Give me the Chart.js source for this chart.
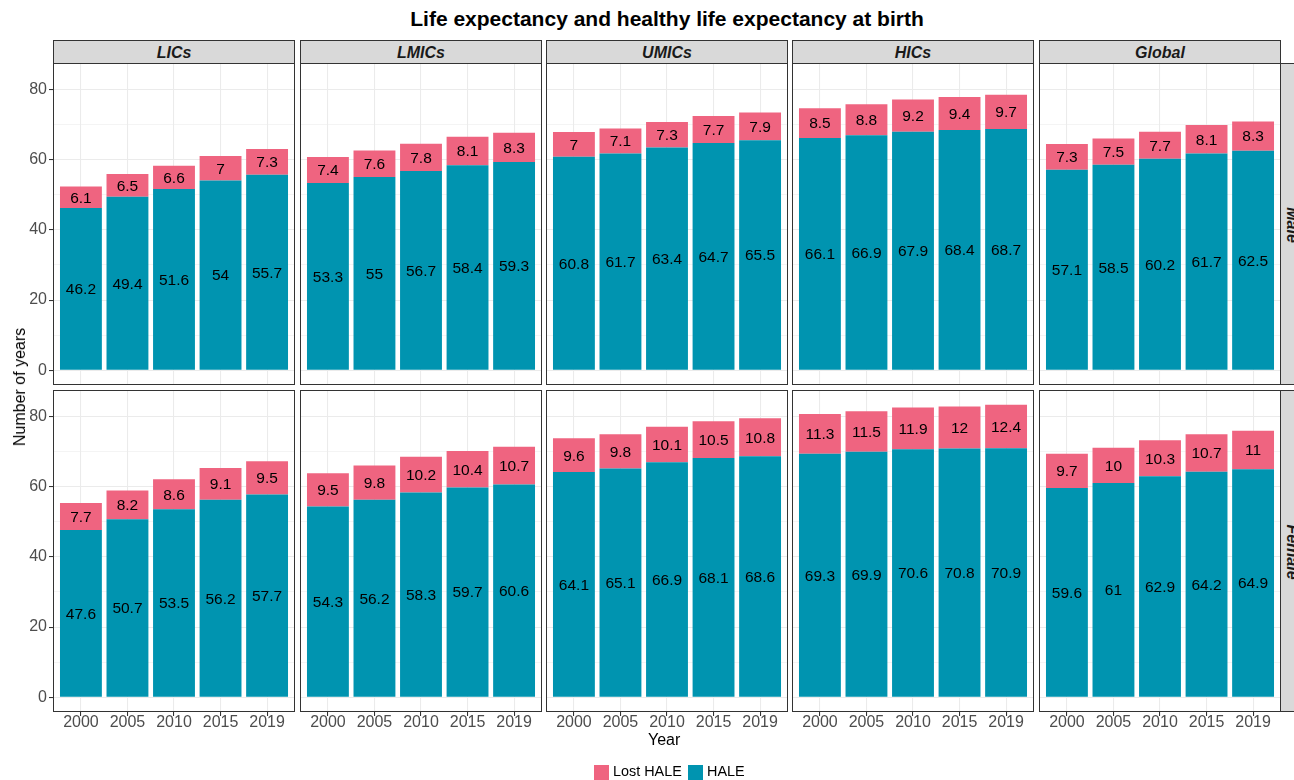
<!DOCTYPE html>
<html>
<head>
<meta charset="utf-8">
<script src="https://cdn.jsdelivr.net/npm/chart.js@4.4.0/dist/chart.umd.min.js"></script>
<style>
  body { margin:0; background:#fff; width:1294px; height:780px; overflow:hidden; position:relative;
         font-family:"Liberation Sans", Arial, Helvetica, sans-serif; }
  .abs { position:absolute; }
  #title { left:367px; width:600px; top:7px; text-align:center; font-weight:bold; font-size:21px; color:#000; white-space:nowrap; }
  .strip { position:absolute; background:#D9D9D9; border:1px solid #333; box-sizing:border-box;
           font-weight:bold; font-style:italic; font-size:16px; color:#1A1A1A; padding-top:1px;
           display:flex; align-items:center; justify-content:center; white-space:nowrap; }
  .rtext { transform:rotate(90deg); }
  .axt { position:absolute; font-size:16px; color:#000; white-space:nowrap; }
  .leg { position:absolute; font-size:14.4px; color:#000; white-space:nowrap; }
  .box { position:absolute; width:15px; height:15px; }
  canvas { position:absolute; }
</style>
</head>
<body>
<div id="title" class="abs">Life expectancy and healthy life expectancy at birth</div>
<div id="wrap"></div>
<div class="axt" style="left:648px; top:731px;">Year</div>
<div class="axt" style="left:20px; top:387px; transform:translate(-50%,-50%) rotate(-90deg);">Number of years</div>
<div class="box" style="left:594px; top:765px; background:#EF6480;"></div>
<div class="leg" style="left:613px; top:763px;">Lost HALE</div>
<div class="box" style="left:688px; top:765px; background:#0094B0;"></div>
<div class="leg" style="left:707px; top:763px;">HALE</div>
<script>
// ---- data ----
const regions = ['LICs', 'LMICs', 'UMICs', 'HICs', 'Global'];
const sexes = ['Male', 'Female'];
const years = ['2000', '2005', '2010', '2015', '2019'];
const yTicks = [0, 20, 40, 60, 80];

const maleHale = [
  [46.2, 49.4, 51.6, 54, 55.7],
  [53.3, 55, 56.7, 58.4, 59.3],
  [60.8, 61.7, 63.4, 64.7, 65.5],
  [66.1, 66.9, 67.9, 68.4, 68.7],
  [57.1, 58.5, 60.2, 61.7, 62.5]
];
const maleLost = [
  [6.1, 6.5, 6.6, 7, 7.3],
  [7.4, 7.6, 7.8, 8.1, 8.3],
  [7, 7.1, 7.3, 7.7, 7.9],
  [8.5, 8.8, 9.2, 9.4, 9.7],
  [7.3, 7.5, 7.7, 8.1, 8.3]
];
const femaleHale = [
  [47.6, 50.7, 53.5, 56.2, 57.7],
  [54.3, 56.2, 58.3, 59.7, 60.6],
  [64.1, 65.1, 66.9, 68.1, 68.6],
  [69.3, 69.9, 70.6, 70.8, 70.9],
  [59.6, 61, 62.9, 64.2, 64.9]
];
const femaleLost = [
  [7.7, 8.2, 8.6, 9.1, 9.5],
  [9.5, 9.8, 10.2, 10.4, 10.7],
  [9.6, 9.8, 10.1, 10.5, 10.8],
  [11.3, 11.5, 11.9, 12, 12.4],
  [9.7, 10, 10.3, 10.7, 11]
];

// ---- styling / layout ----
const HALE_COLOR = '#0094B0';
const LOST_COLOR = '#EF6480';
const FONT = '"Liberation Sans", Arial, Helvetica, sans-serif';
const colLefts = [53, 300, 546, 792, 1039];
const panelW = 242;
const rowTops = [63, 390];
const panelH = 322;
const yAxisW = 53;
const xAxisH = 30;

// shared y range (ggplot default 5% expansion of 0..max total)
let maxTotal = 0;
[[maleHale, maleLost], [femaleHale, femaleLost]].forEach(([h, l]) => {
  h.forEach((arr, r) => arr.forEach((v, i) => { maxTotal = Math.max(maxTotal, v + l[r][i]); }));
});
const yMin = -0.05 * maxTotal;
const yMax = maxTotal * 1.05;

const valueLabels = {
  id: 'valueLabels',
  afterDatasetsDraw(chart) {
    const ctx = chart.ctx;
    ctx.save();
    ctx.font = '15.5px ' + FONT;
    ctx.fillStyle = '#000';
    ctx.textAlign = 'center';
    ctx.textBaseline = 'middle';
    chart.data.datasets.forEach((ds, i) => {
      const meta = chart.getDatasetMeta(i);
      meta.data.forEach((bar, j) => {
        const p = bar.getProps(['x', 'y', 'base'], true);
        ctx.fillText(String(ds.data[j].y), p.x, (p.y + p.base) / 2 + 1);
      });
    });
    ctx.restore();
  }
};
const panelBorder = {
  id: 'panelBorder',
  afterDraw(chart) {
    const a = chart.chartArea, ctx = chart.ctx;
    ctx.save();
    ctx.strokeStyle = '#333333';
    ctx.lineWidth = 1;
    ctx.strokeRect(Math.round(a.left) + 0.5, Math.round(a.top) + 0.5,
                   Math.round(a.right - a.left) - 1, Math.round(a.bottom - a.top) - 1);
    ctx.restore();
  }
};

const wrap = document.getElementById('wrap');

// strips
regions.forEach((reg, c) => {
  const s = document.createElement('div');
  s.className = 'strip';
  s.style.left = colLefts[c] + 'px';
  s.style.top = '40px';
  s.style.width = panelW + 'px';
  s.style.height = '24px';
  s.textContent = reg;
  wrap.appendChild(s);
});
sexes.forEach((sx, r) => {
  const s = document.createElement('div');
  s.className = 'strip';
  s.style.left = '1280px';
  s.style.top = rowTops[r] + 'px';
  s.style.width = '24px';
  s.style.height = panelH + 'px';
  const t = document.createElement('span');
  t.className = 'rtext';
  t.textContent = sx;
  s.appendChild(t);
  wrap.appendChild(s);
});

function zeroPad(s) { s.paddingTop = 0; s.paddingBottom = 0; s.paddingLeft = 0; s.paddingRight = 0; }

function makePanel(r, c) {
  const hale = (r === 0 ? maleHale : femaleHale)[c];
  const lost = (r === 0 ? maleLost : femaleLost)[c];
  const isLeft = c === 0, isBottom = r === 1;
  const cv = document.createElement('canvas');
  const w = panelW + (isLeft ? yAxisW : 0);
  const h = panelH + (isBottom ? xAxisH : 0);
  cv.width = w; cv.height = h;
  cv.style.width = w + 'px'; cv.style.height = h + 'px';
  cv.style.left = (colLefts[c] - (isLeft ? yAxisW : 0)) + 'px';
  cv.style.top = rowTops[r] + 'px';
  wrap.appendChild(cv);

  new Chart(cv, {
    type: 'bar',
    data: {
      datasets: [
        { label: 'HALE', data: hale.map((v, i) => ({ x: i, y: v })), backgroundColor: HALE_COLOR,
          borderWidth: 0, barPercentage: 0.9, categoryPercentage: 1 },
        { label: 'Lost HALE', data: lost.map((v, i) => ({ x: i, y: v })), backgroundColor: LOST_COLOR,
          borderWidth: 0, barPercentage: 0.9, categoryPercentage: 1 }
      ]
    },
    options: {
      responsive: false,
      animation: false,
      devicePixelRatio: 1,
      layout: { padding: 0 },
      plugins: { legend: { display: false }, tooltip: { enabled: false } },
      scales: {
        x: {
          type: 'linear', stacked: true, min: -0.6, max: years.length - 0.4,
          offset: false,
          border: { display: false },
          grid: { offset: false, color: '#EBEBEB', lineWidth: 1.07, drawTicks: isBottom, tickLength: 4, tickColor: '#333333' },
          ticks: {
            display: isBottom, stepSize: 1, includeBounds: false, autoSkip: false, maxRotation: 0,
            padding: -1, color: '#4D4D4D', font: { family: FONT, size: 16, lineHeight: 1 },
            callback: (v) => (Number.isInteger(v) && years[v] !== undefined) ? years[v] : ''
          },
          afterFit: (s) => { s.height = isBottom ? xAxisH : 0; zeroPad(s); }
        },
        y: {
          type: 'linear', stacked: true, min: yMin, max: yMax,
          border: { display: false },
          grid: {
            color: '#EBEBEB',
            lineWidth: (ctx) => (yTicks.includes(ctx.tick && ctx.tick.value) ? 1.07 : 0.55),
            drawTicks: isLeft, tickLength: 4,
            tickColor: (ctx) => (yTicks.includes(ctx.tick && ctx.tick.value) ? '#333333' : 'rgba(0,0,0,0)')
          },
          ticks: {
            display: isLeft, stepSize: 10, includeBounds: false, autoSkip: false,
            padding: 2, color: '#4D4D4D', font: { family: FONT, size: 16 },
            callback: (v) => (yTicks.includes(v) ? String(v) : '')
          },
          afterFit: (s) => { s.width = isLeft ? yAxisW : 0; zeroPad(s); }
        }
      }
    },
    plugins: [valueLabels, panelBorder]
  });
}

for (let r = 0; r < 2; r++) for (let c = 0; c < 5; c++) makePanel(r, c);
</script>
</body>
</html>
